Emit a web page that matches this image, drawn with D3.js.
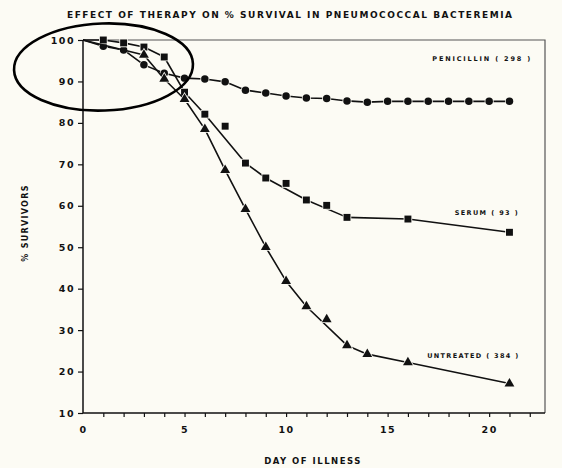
<!DOCTYPE html>
<html>
<head>
<meta charset="utf-8">
<script src="https://cdn.jsdelivr.net/npm/d3@7"></script>
<style>
  html, body { margin: 0; padding: 0; background: #fcfbf4; }
  svg { display: block; font-family: "DejaVu Sans", sans-serif; font-weight: bold; }
</style>
</head>
<body>
<div class="content"></div>
<script>
//--> Data
const penicillinDays = [0, 1, 2, 3, 4, 5, 6, 7, 8, 9, 10, 11, 12, 13, 14, 15, 16, 17, 18, 19, 20, 21];
const penicillinValues = [100, 98.5, 97.6, 94, 92, 90.8, 90.6, 89.9, 87.9, 87.2, 86.5, 86, 85.9, 85.3, 85, 85.2, 85.2, 85.2, 85.2, 85.2, 85.2, 85.2];

const serumDays = [0, 1, 2, 3, 4, 5, 6, 7, 8, 9, 10, 11, 12, 13, 16, 21];
const serumValues = [100, 100, 99.3, 98.3, 95.9, 87.4, 82.1, 79.2, 70.3, 66.7, 65.4, 61.4, 60.1, 57.2, 56.8, 53.6];
const serumOffLine = [7, 10, 12];

const untreatedDays = [0, 3, 4, 5, 6, 7, 8, 9, 10, 11, 12, 13, 14, 16, 21];
const untreatedValues = [100, 96.4, 90.6, 85.7, 78.5, 68.6, 59.2, 50, 41.8, 35.7, 32.6, 26.3, 24.2, 22.2, 17.1];
const untreatedOffLine = [12];

const yTicks = [10, 20, 30, 40, 50, 60, 70, 80, 90, 100];
const xTicks = d3.range(0, 23);
const xLabels = [0, 5, 10, 15, 20];

const title = "EFFECT OF THERAPY ON % SURVIVAL IN PNEUMOCOCCAL BACTEREMIA";

//--> Constants
const width = 562;
const height = 468;
const plot = { left: 83, right: 545, top: 40, bottom: 413 };
const bg = "#fcfbf4";

const svg = d3
  .select(".content")
  .append("svg")
  .attr("width", width)
  .attr("height", height);

const x = d3.scaleLinear().domain([0, 22.75]).range([plot.left, plot.right]);
const y = d3.scaleLinear().domain([10, 100]).range([plot.bottom, plot.top]);

const toPoints = (days, values) => days.map((d, i) => ({ day: d, value: values[i] }));

const series = [
  {
    name: "PENICILLIN  ( 298 )",
    points: toPoints(penicillinDays, penicillinValues),
    offLine: [],
    shape: d3.symbolCircle,
    size: 44,
    label: [17.2, 94.9],
    labelLength: 98
  },
  {
    name: "SERUM  ( 93 )",
    points: toPoints(serumDays, serumValues),
    offLine: serumOffLine,
    shape: d3.symbolSquare,
    size: 48,
    label: [18.3, 57.7],
    labelLength: 63
  },
  {
    name: "UNTREATED  ( 384 )",
    points: toPoints(untreatedDays, untreatedValues),
    offLine: untreatedOffLine,
    shape: d3.symbolTriangle,
    size: 42,
    label: [16.95, 23.3],
    labelLength: 91
  }
];

//--> Frame
svg
  .append("path")
  .attr("d", `M${plot.left},${plot.top}H${plot.right}V${plot.bottom}`)
  .attr("fill", "none")
  .attr("stroke", "#555")
  .attr("stroke-width", 1.2);

svg
  .append("path")
  .attr("d", `M${plot.left},${plot.top}V${plot.bottom}H${plot.right}`)
  .attr("fill", "none")
  .attr("stroke", "#111")
  .attr("stroke-width", 1.5);

//--> Axes
const yAxis = svg
  .append("g")
  .attr("transform", `translate(${plot.left},0)`)
  .call(d3.axisLeft(y).tickValues(yTicks).tickSize(5).tickPadding(3));

const xAxis = svg
  .append("g")
  .attr("transform", `translate(0,${plot.bottom})`)
  .call(
    d3
      .axisBottom(x)
      .tickValues(xTicks)
      .tickSize(4)
      .tickPadding(9)
      .tickFormat(d => (xLabels.includes(d) ? d : ""))
  );

[yAxis, xAxis].forEach(g => {
  g.select(".domain").remove();
  g.selectAll(".tick line").attr("stroke", "#111").attr("stroke-width", 1.2);
  g.selectAll(".tick text")
    .attr("fill", "#111")
    .attr("font-family", "DejaVu Sans, sans-serif")
    .attr("font-weight", "bold")
    .attr("font-size", 9.5)
    .attr("letter-spacing", 1.5);
});
xAxis.selectAll(".tick").filter(d => d === 0).select("line").remove();

//--> Titles
svg
  .append("text")
  .attr("x", 67)
  .attr("y", 18)
  .attr("textLength", 445)
  .attr("lengthAdjust", "spacing")
  .attr("font-size", 9)
  .attr("fill", "#111")
  .text(title);

svg
  .append("text")
  .attr("transform", "translate(28,223) rotate(-90)")
  .attr("text-anchor", "middle")
  .attr("font-size", 8)
  .attr("letter-spacing", 1.3)
  .attr("fill", "#111")
  .text("% SURVIVORS");

svg
  .append("text")
  .attr("x", 313)
  .attr("y", 464)
  .attr("text-anchor", "middle")
  .attr("font-size", 8.5)
  .attr("letter-spacing", 1.5)
  .attr("fill", "#111")
  .text("DAY OF ILLNESS");

//--> Lines and markers
const line = d3
  .line()
  .x(d => x(d.day))
  .y(d => y(d.value));

series.forEach(s => {
  svg
    .append("path")
    .datum(s.points.filter(p => !s.offLine.includes(p.day)))
    .attr("d", line)
    .attr("fill", "none")
    .attr("stroke", "#111")
    .attr("stroke-width", 1.6)
    .attr("stroke-linejoin", "round");

  svg
    .append("g")
    .selectAll("path")
    .data(s.points.filter(p => p.day > 0))
    .enter()
    .append("path")
    .attr("transform", d => `translate(${x(d.day)},${y(d.value)})`)
    .attr("d", d3.symbol().type(s.shape).size(s.size))
    .attr("fill", "#111")
    .attr("stroke", bg)
    .attr("stroke-width", 1.6)
    .attr("paint-order", "stroke");

  svg
    .append("text")
    .attr("x", x(s.label[0]))
    .attr("y", y(s.label[1]))
    .attr("font-size", 6.5)
    .attr("textLength", s.labelLength)
    .attr("lengthAdjust", "spacing")
    .attr("fill", "#111")
    .text(s.name);
});

//--> Hand-drawn ellipse annotation
svg
  .append("ellipse")
  .attr("cx", 103.5)
  .attr("cy", 67)
  .attr("rx", 89.5)
  .attr("ry", 43.5)
  .attr("transform", "rotate(-2,103.5,67)")
  .attr("fill", "none")
  .attr("stroke", "#000")
  .attr("stroke-width", 2.6);
</script>
</body>
</html>
